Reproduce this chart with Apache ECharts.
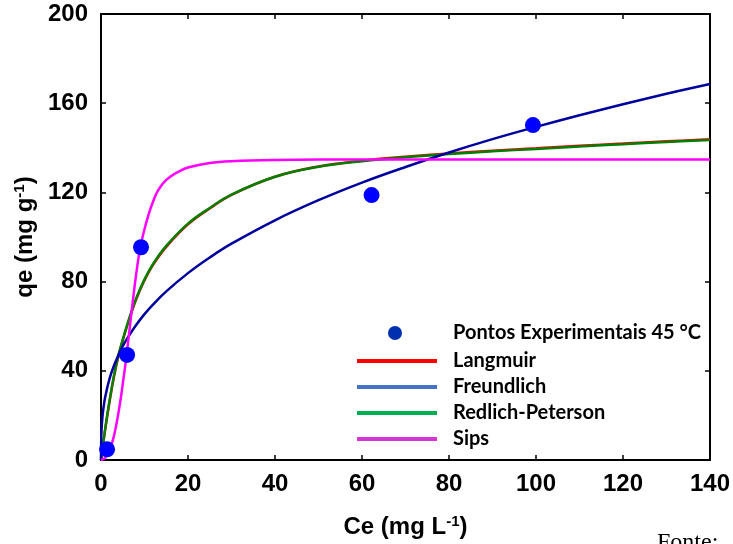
<!DOCTYPE html>
<html>
<head>
<meta charset="utf-8">
<script src="https://cdn.jsdelivr.net/npm/echarts@6/dist/echarts.min.js"></script>
<style>
html,body{margin:0;padding:0;background:#fff;}
#chart{width:733px;height:544px;}
</style>
</head>
<body>
<div id="chart"></div>
<script>
// ---- data ----
var xTicks = [0, 20, 40, 60, 80, 100, 120, 140];
var yTicks = [0, 40, 80, 120, 160, 200];

var expCe = [1.4, 6.0, 9.2, 62.2, 99.3];
var expQe = [4.8, 47.1, 95.4, 118.8, 150.2];

var freundCe = [0, 0.1, 0.3, 0.6, 1, 2, 3, 4, 5, 6, 8, 10, 12, 15, 20, 25, 30, 40, 50, 60, 70, 80, 90, 100, 110, 120, 130, 140];
var freundQe = [0, 12.5, 18.6, 23.8, 28.6, 36.7, 42.4, 47.0, 51.0, 54.4, 60.3, 65.4, 69.8, 75.6, 83.8, 90.8, 97.0, 107.5, 116.5, 124.4, 131.4, 137.9, 143.9, 149.4, 154.6, 159.5, 164.2, 168.6];

var rpCe = [0, 0.5, 1, 2, 3, 4, 5, 6, 7, 8, 10, 12, 15, 20, 25, 30, 40, 50, 60, 70, 80, 90, 100, 110, 120, 130, 140];
var rpQe = [0, 7.5, 14.5, 27, 38, 47, 54, 60.5, 66.5, 72, 81, 88, 96, 106, 113, 119, 127, 131.5, 134, 135.8, 137.2, 138.4, 139.5, 140.6, 141.6, 142.6, 143.5];

var langCe = [0, 0.5, 1, 2, 3, 4, 5, 6, 7, 8, 10, 12, 15, 20, 25, 30, 40, 50, 60, 70, 80, 90, 100, 110, 120, 130, 140];
var langQe = [0, 7.3, 14.2, 26.6, 37.6, 46.6, 53.6, 60.1, 66.1, 71.6, 80.6, 87.6, 95.6, 105.7, 112.8, 118.9, 127.0, 131.6, 134.2, 136.0, 137.5, 138.7, 139.8, 140.9, 141.9, 142.9, 143.8];

var sipsCe = [0, 1, 2, 3, 4, 5, 6, 7, 8, 9, 10, 11, 12, 13, 15, 18, 20, 25, 30, 40, 60, 80, 100, 120, 140];
var sipsQe = [0, 1, 4.5, 11, 21, 34, 49, 66, 82, 95, 103.5, 110.5, 116, 120.5, 125.6, 129.5, 131.2, 133.2, 134, 134.5, 134.8, 134.8, 134.8, 134.8, 134.8];

var seriesNames = ['Pontos Experimentais 45 °C', 'Langmuir', 'Freundlich', 'Redlich-Peterson', 'Sips'];

function pairs(xs, ys) { return xs.map(function (x, i) { return [x, ys[i]]; }); }

var chart = echarts.init(document.getElementById('chart'), null, {renderer: 'canvas'});

var axisFont = {fontFamily: 'Liberation Sans', fontWeight: 'bold', fontSize: 24, color: '#000'};
var nameFont = {fontFamily: 'Liberation Sans', fontWeight: 'bold', fontSize: 24, color: '#000',
  rich: {sup: {fontFamily: 'Liberation Sans', fontWeight: 'bold', fontSize: 15, verticalAlign: 'top', padding: [0, 0, 11, 0], color: '#000'}}};
var legendFont = {fontFamily: 'Lato', fontWeight: 'bold', fontSize: 20, color: '#000'};

var option = {
  animation: false,
  backgroundColor: '#fff',
  grid: {left: 101, right: 21, top: 14, bottom: 84, containLabel: false},
  xAxis: [{
    type: 'value', min: 0, max: 140, interval: 20,
    name: 'Ce (mg L{sup|-1})', nameLocation: 'middle', nameGap: 54,
    nameTextStyle: nameFont,
    axisLine: {show: true, onZero: false, lineStyle: {color: '#000', width: 2}},
    axisTick: {show: true, inside: true, length: 5, lineStyle: {color: '#000', width: 1.5}},
    axisLabel: Object.assign({margin: 12}, axisFont),
    splitLine: {show: false}
  }, {
    type: 'value', position: 'top', min: 0, max: 140, interval: 20,
    axisLine: {show: true, onZero: false, lineStyle: {color: '#000', width: 2}},
    axisTick: {show: true, inside: true, length: 5, lineStyle: {color: '#000', width: 1.5}},
    axisLabel: {show: false}, splitLine: {show: false}
  }],
  yAxis: [{
    type: 'value', min: 0, max: 200, interval: 40,
    name: 'qe (mg g{sup|-1})', nameLocation: 'middle', nameGap: 57, nameRotate: 90,
    nameTextStyle: nameFont,
    axisLine: {show: true, onZero: false, lineStyle: {color: '#000', width: 2}},
    axisTick: {show: true, inside: true, length: 5, lineStyle: {color: '#000', width: 1.5}},
    axisLabel: Object.assign({margin: 13}, axisFont),
    splitLine: {show: false}
  }, {
    type: 'value', position: 'right', min: 0, max: 200, interval: 40,
    axisLine: {show: true, onZero: false, lineStyle: {color: '#000', width: 2}},
    axisTick: {show: true, inside: true, length: 5, lineStyle: {color: '#000', width: 1.5}},
    axisLabel: {show: false}, splitLine: {show: false}
  }],
  legend: [{
    selectedMode: false, padding: 0,
    data: [{name: seriesNames[0], icon: 'circle', itemStyle: {color: '#0030B0', opacity: 1}}],
    left: 388, top: 323, itemWidth: 14, itemHeight: 14,
    textStyle: Object.assign({padding: [0, 0, 0, 46]}, legendFont)
  }, {
    selectedMode: false, orient: 'vertical', padding: 0,
    data: [
      {name: seriesNames[1], itemStyle: {color: '#FF0000'}},
      {name: seriesNames[2], itemStyle: {color: '#4472C4'}},
      {name: seriesNames[3], itemStyle: {color: '#00B050'}},
      {name: seriesNames[4], itemStyle: {color: '#D535D5'}}
    ],
    icon: 'rect', left: 357, top: 351, itemWidth: 80, itemHeight: 4, itemGap: 6,
    textStyle: Object.assign({padding: [0, 0, 0, 11], lineHeight: 20}, legendFont)
  }],
  graphic: [{
    type: 'text', left: 657, top: 531,
    style: {text: 'Fonte:', fontFamily: 'Liberation Serif', fontSize: 24, fill: '#000'}
  }],
  series: [{
    name: seriesNames[1], type: 'line', data: pairs(langCe, langQe), showSymbol: false, symbol: 'none',
    smooth: 0.4, lineStyle: {color: '#FF0000', width: 2.5}, itemStyle: {color: '#FF0000'}, z: 2
  }, {
    name: seriesNames[3], type: 'line', data: pairs(rpCe, rpQe), showSymbol: false, symbol: 'none',
    smooth: 0.4, lineStyle: {color: '#008000', width: 2.5}, itemStyle: {color: '#008000'}, z: 3
  }, {
    name: seriesNames[2], type: 'line', data: pairs(freundCe, freundQe), showSymbol: false, symbol: 'none',
    smooth: 0.4, lineStyle: {color: '#00009E', width: 2.5}, itemStyle: {color: '#00009E'}, z: 4
  }, {
    name: seriesNames[4], type: 'line', data: pairs(sipsCe, sipsQe), showSymbol: false, symbol: 'none',
    smooth: 0.4, lineStyle: {color: '#FF00FF', width: 2.5}, itemStyle: {color: '#FF00FF'}, z: 5
  }, {
    name: seriesNames[0], type: 'scatter', data: pairs(expCe, expQe), symbol: 'circle', symbolSize: 16,
    itemStyle: {color: '#0000FF', opacity: 1}, z: 6
  }]
};
chart.setOption(option);
</script>
</body>
</html>
